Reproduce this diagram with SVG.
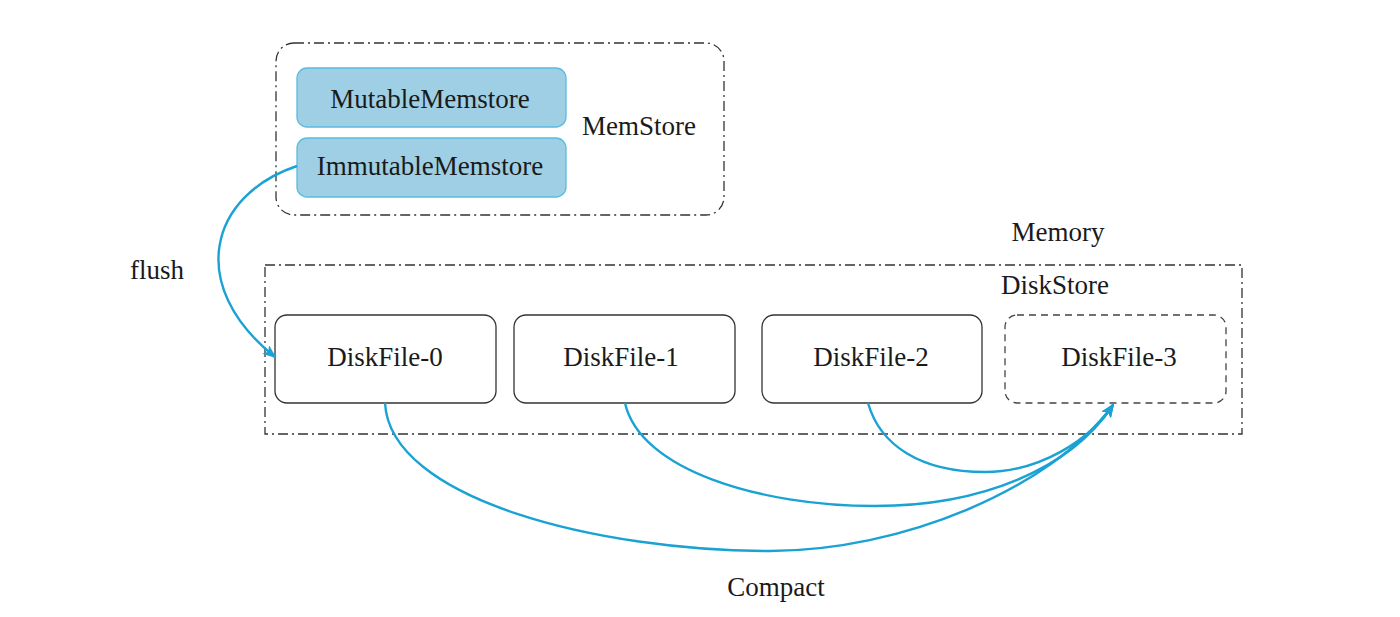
<svg xmlns="http://www.w3.org/2000/svg" width="1400" height="617" viewBox="0 0 1400 617">
<style>
.t{font-family:"Liberation Serif","Times New Roman",serif;font-size:27px;fill:#1a1a1a;text-anchor:middle}
.dd{fill:none;stroke:#333;stroke-width:1.3;stroke-dasharray:10 4 2 4}
.mem{fill:#9fcfe4;stroke:#5bbbe0;stroke-width:1.3}
.disk{fill:#fff;stroke:#333;stroke-width:1.3}
.disk3{fill:#fff;stroke:#444;stroke-width:1.3;stroke-dasharray:7 5}
.c{fill:none;stroke:#19a2d3;stroke-width:2.4}
</style>
<defs>
<marker id="ah" markerWidth="14" markerHeight="11" refX="12" refY="5.5" orient="auto" markerUnits="userSpaceOnUse">
<path d="M0,0 L14,5.5 L0,11 L3.5,5.5 Z" fill="#19a2d3"/>
</marker>
</defs>
<rect width="1400" height="617" fill="#fff"/>
<g id="memstore">
<rect class="dd" x="276" y="43" width="448" height="172" rx="18"/>
<text class="t" x="639" y="135">MemStore</text>
</g>
<g id="mutable">
<rect class="mem" x="297" y="68" width="269" height="59" rx="10"/>
<text class="t" x="430" y="108">MutableMemstore</text>
</g>
<g id="immutable">
<rect class="mem" x="297" y="138" width="269" height="59" rx="10"/>
<text class="t" x="430" y="175">ImmutableMemstore</text>
</g>
<g id="memory"><text class="t" x="1058" y="241">Memory</text></g>
<g id="diskstore">
<rect class="dd" x="265" y="265" width="977" height="169"/>
<text class="t" x="1055" y="294">DiskStore</text>
</g>
<g id="df0">
<rect class="disk" x="275" y="315" width="221" height="88" rx="12"/>
<text class="t" x="385" y="366">DiskFile-0</text>
</g>
<g id="df1">
<rect class="disk" x="514" y="315" width="221" height="88" rx="12"/>
<text class="t" x="621" y="366">DiskFile-1</text>
</g>
<g id="df2">
<rect class="disk" x="762" y="315" width="220" height="88" rx="12"/>
<text class="t" x="871" y="366">DiskFile-2</text>
</g>
<g id="df3">
<rect class="disk3" x="1005" y="315" width="221" height="88" rx="12"/>
<text class="t" x="1119" y="366">DiskFile-3</text>
</g>
<g id="labels">
<text class="t" x="157" y="279">flush</text>
<text class="t" x="776" y="596">Compact</text>
</g>
<g id="connectors">
<path class="c" d="M297 166 C210 195 185 285 275 357" marker-end="url(#ah)"/>
<path class="c" d="M385 403 C390 500 600 551 770 551 C900 551 1050 490 1113 405" marker-end="url(#ah)"/>
<path class="c" d="M625 403 C640 470 760 506 875 506 C980 506 1070 470 1113 405" marker-end="url(#ah)"/>
<path class="c" d="M868 403 C880 445 920 472 985 472 C1040 472 1090 440 1113 405" marker-end="url(#ah)"/>
</g>
</svg>
